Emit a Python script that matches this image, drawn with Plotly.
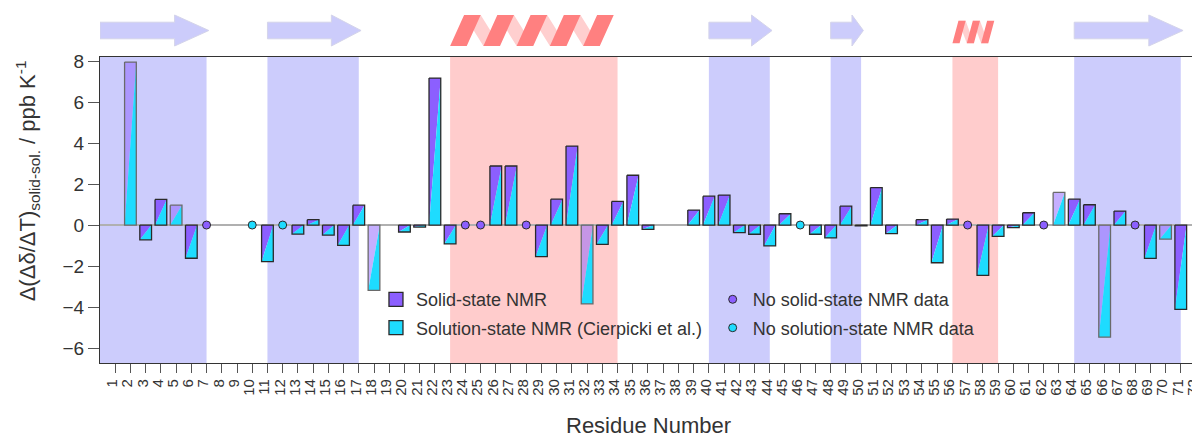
import plotly.graph_objects as go

# ---------------- data ----------------
residues = list(range(1, 73))
tick_labels = [str(r) for r in residues]

bar_residues = [2, 3, 4, 5, 6, 11, 13, 14, 15, 16, 17, 18, 20, 21, 22, 23,
                26, 27, 29, 30, 31, 32, 33, 34, 35, 36, 39, 40, 41, 42, 43, 44,
                45, 47, 48, 49, 50, 51, 52, 54, 55, 56, 58, 59, 60, 61, 63, 64,
                65, 66, 67, 69, 70, 71]
bar_values = [7.95, -0.72, 1.25, 0.97, -1.62, -1.78, -0.44, 0.26, -0.49, -0.99,
              0.97, -3.19, -0.34, -0.10, 7.17, -0.92, 2.88, 2.88, -1.54, 1.26,
              3.85, -3.85, -0.94, 1.15, 2.43, -0.21, 0.73, 1.41, 1.46, -0.37,
              -0.45, -1.02, 0.55, -0.45, -0.63, 0.92, -0.04, 1.83, -0.42, 0.26,
              -1.84, 0.29, -2.46, -0.55, -0.13, 0.60, 1.59, 1.26, 0.99, -5.47,
              0.68, -1.63, -0.69, -4.11]
faded_residues = [2, 5, 18, 32, 63, 66, 70]

no_solid_residues = [7, 24, 25, 28, 57, 62, 68]
no_solution_residues = [10, 12, 46]

# secondary structure (residue ranges)
strand_ranges = [(0, 7), (11, 17), (40, 44), (48, 50), (64, 71)]
helix_ranges = [(23, 34), (56, 59)]
helix_turns = [5, 3]

assert len(bar_residues) == len(bar_values)

# ---------------- style ----------------
PURPLE = "#8c5fff"
PURPLE_FADED = "rgba(140,95,255,0.5)"
CYAN = "#1edcff"
EDGE = "#2a2a2a"
EDGE_FADED = "#6a6a6a"
BLUE_BAND = "rgba(204,204,252,1)"
RED_BAND = "rgba(255,204,204,1)"
ARROW = "#ccccfb"
HELIX_FRONT = "#ff8080"
HELIX_BACK = "#ffcfcf"
TXT = "#333333"
FONT = "Liberation Sans, Arial, sans-serif"
BAR_W = 0.77

fig = go.Figure()


def add_poly(xs, ys, x, y):
    xs.extend(x + [x[0], None])
    ys.extend(y + [y[0], None])


# bar triangles
purple_x, purple_y = [], []
purplef_x, purplef_y = [], []
cyan_x, cyan_y = [], []
edge_x, edge_y = [], []
edgef_x, edgef_y = [], []
for r, v in zip(bar_residues, bar_values):
    top, bot = max(v, 0.0), min(v, 0.0)
    xl, xr = r - BAR_W / 2, r + BAR_W / 2
    faded = r in faded_residues
    if faded:
        add_poly(purplef_x, purplef_y, [xl, xr, xl], [top, top, bot])
        add_poly(edgef_x, edgef_y, [xl, xr, xr, xl], [top, top, bot, bot])
    else:
        add_poly(purple_x, purple_y, [xl, xr, xl], [top, top, bot])
        add_poly(edge_x, edge_y, [xl, xr, xr, xl], [top, top, bot, bot])
    add_poly(cyan_x, cyan_y, [xr, xr, xl], [top, bot, bot])

common = dict(mode="lines", hoverinfo="skip", showlegend=False, xaxis="x", yaxis="y")
fig.add_trace(go.Scatter(x=purple_x, y=purple_y, fill="toself", fillcolor=PURPLE,
                         line=dict(width=0, color=PURPLE), **common))
fig.add_trace(go.Scatter(x=purplef_x, y=purplef_y, fill="toself", fillcolor=PURPLE_FADED,
                         line=dict(width=0, color=PURPLE_FADED), **common))
fig.add_trace(go.Scatter(x=cyan_x, y=cyan_y, fill="toself", fillcolor=CYAN,
                         line=dict(width=0, color=CYAN), **common))
fig.add_trace(go.Scatter(x=edge_x, y=edge_y, line=dict(width=1.3, color=EDGE), **common))
fig.add_trace(go.Scatter(x=edgef_x, y=edgef_y, line=dict(width=1.3, color=EDGE_FADED), **common))

# missing-data circles
fig.add_trace(go.Scatter(x=no_solid_residues, y=[0] * len(no_solid_residues), mode="markers",
                         marker=dict(size=8, color=PURPLE, line=dict(width=1, color=EDGE)),
                         showlegend=False, hoverinfo="skip"))
fig.add_trace(go.Scatter(x=no_solution_residues, y=[0] * len(no_solution_residues), mode="markers",
                         marker=dict(size=8, color=CYAN, line=dict(width=1, color=EDGE)),
                         showlegend=False, hoverinfo="skip"))

# legend entries
fig.add_trace(go.Scatter(x=[None], y=[None], mode="markers", name="Solid-state NMR",
                         legendgroup="a", legend="legend",
                         marker=dict(symbol="square", size=14, color=PURPLE,
                                     line=dict(width=1.3, color=EDGE))))
fig.add_trace(go.Scatter(x=[None], y=[None], mode="markers",
                         name="Solution-state NMR (Cierpicki et al.)",
                         legendgroup="b", legend="legend",
                         marker=dict(symbol="square", size=14, color=CYAN,
                                     line=dict(width=1.3, color=EDGE))))
fig.add_trace(go.Scatter(x=[None], y=[None], mode="markers", name="No solid-state NMR data",
                         legendgroup="c", legend="legend2",
                         marker=dict(size=8, color=PURPLE, line=dict(width=1, color=EDGE))))
fig.add_trace(go.Scatter(x=[None], y=[None], mode="markers", name="No solution-state NMR data",
                         legendgroup="d", legend="legend2",
                         marker=dict(size=8, color=CYAN, line=dict(width=1, color=EDGE))))

# ---------------- secondary-structure cartoon (top subplot) ----------------
top_common = dict(mode="lines", hoverinfo="skip", showlegend=False, xaxis="x2", yaxis="y2")
ax_, ay_ = [], []
for (s0, s1) in strand_ranges:
    L = s1 - s0
    hs = s1 - 0.3 * L
    yc = 21.5
    add_poly(ax_, ay_, [s0, hs, hs, s1 + 0.15, hs, hs, s0],
             [yc - 8.3, yc - 8.3, yc - 15.5, yc, yc + 15.5, yc + 8.3, yc + 8.3])
fig.add_trace(go.Scatter(x=ax_, y=ay_, fill="toself", fillcolor=ARROW,
                         line=dict(width=1, color="#d4d4ea"), **top_common))

hb_x, hb_y, hf_x, hf_y = [], [], [], []
helix_y = [(6.0, 37.0), (8.7, 31.3)]
for (h0, h1), n, (yb, yt) in zip(helix_ranges, helix_turns, helix_y):
    L = (h1 - 0.25) - h0
    a_s, a_w = 0.42, 0.5
    p = L / (n - 1 + a_s + a_w)
    s, w = a_s * p, a_w * p
    for i in range(n):
        a = h0 + i * p
        add_poly(hf_x, hf_y, [a, a + w, a + s + w, a + s], [yb, yb, yt, yt])
        if i < n - 1:
            b = a + p
            add_poly(hb_x, hb_y, [a + s, a + s + w, b + w, b], [yt, yt, yb, yb])
fig.add_trace(go.Scatter(x=hb_x, y=hb_y, fill="toself", fillcolor=HELIX_BACK,
                         line=dict(width=0, color=HELIX_BACK), **top_common))
fig.add_trace(go.Scatter(x=hf_x, y=hf_y, fill="toself", fillcolor=HELIX_FRONT,
                         line=dict(width=0, color=HELIX_FRONT), **top_common))

# ---------------- background bands ----------------
shapes = []
for (s0, s1) in strand_ranges:
    shapes.append(dict(type="rect", xref="x", yref="y domain", x0=s0, x1=s1, y0=0, y1=1,
                       fillcolor=BLUE_BAND, line=dict(width=0), layer="below"))
for (h0, h1) in helix_ranges:
    shapes.append(dict(type="rect", xref="x", yref="y domain", x0=h0, x1=h1, y0=0, y1=1,
                       fillcolor=RED_BAND, line=dict(width=0), layer="below"))

# axis titles as annotations (exact placement)
annotations = [
    dict(text="Residue Number", xref="paper", yref="paper", x=0.5, y=-0.177,
         xanchor="center", yanchor="middle", showarrow=False,
         font=dict(size=22, color=TXT)),
    dict(text="Δ(Δδ/ΔT)<sub>solid-sol.</sub> / ppb K<sup>-1</sup>", xref="paper",
         yref="paper", x=-0.0665, y=0.515, xanchor="center", yanchor="middle",
         textangle=-90, showarrow=False, font=dict(size=22, color=TXT)),
]

fig.update_layout(
    width=1192, height=430,
    margin=dict(l=92, r=4, t=2, b=75.3, autoexpand=False),
    paper_bgcolor="white", plot_bgcolor="white",
    font=dict(family=FONT, color=TXT, size=18),
    shapes=shapes,
    annotations=annotations,
    xaxis=dict(domain=[0, 1], anchor="y", range=[0, 72.001], tickmode="array",
               tickvals=residues, ticktext=tick_labels, tickangle=-90,
               tickfont=dict(size=15, color=TXT), ticks="outside", ticklen=9,
               tickcolor="#555555", tickwidth=1, showline=True, mirror=True,
               linecolor="#333333", linewidth=1.2, showgrid=False, zeroline=False,
               ticklabeloverflow="allow", ticklabelshift=-3, automargin=False),
    yaxis=dict(domain=[0, 0.8676], anchor="x", range=[-6.73, 8.21], tickmode="array",
               tickvals=[-6, -4, -2, 0, 2, 4, 6, 8], tickfont=dict(size=19, color=TXT),
               ticks="outside", ticklen=11, tickcolor="#555555", showline=True, mirror=True,
               linecolor="#333333", linewidth=1.2, showgrid=False,
               zeroline=True, zerolinecolor="#b0b0b0", zerolinewidth=1.5,
               automargin=False),
    xaxis2=dict(domain=[0, 1], anchor="y2", matches="x", visible=False),
    yaxis2=dict(domain=[0.881, 1], anchor="x2", range=[0, 42], visible=False),
    legend=dict(x=0.2518, y=0.232, xanchor="left", yanchor="top", bgcolor="rgba(0,0,0,0)",
                traceorder="grouped", tracegroupgap=2, font=dict(size=18, color=TXT)),
    legend2=dict(x=0.5590, y=0.232, xanchor="left", yanchor="top", bgcolor="rgba(0,0,0,0)",
                 traceorder="grouped", tracegroupgap=2, font=dict(size=18, color=TXT)),
    hovermode=False,
)

fig.write_html("out.html")
